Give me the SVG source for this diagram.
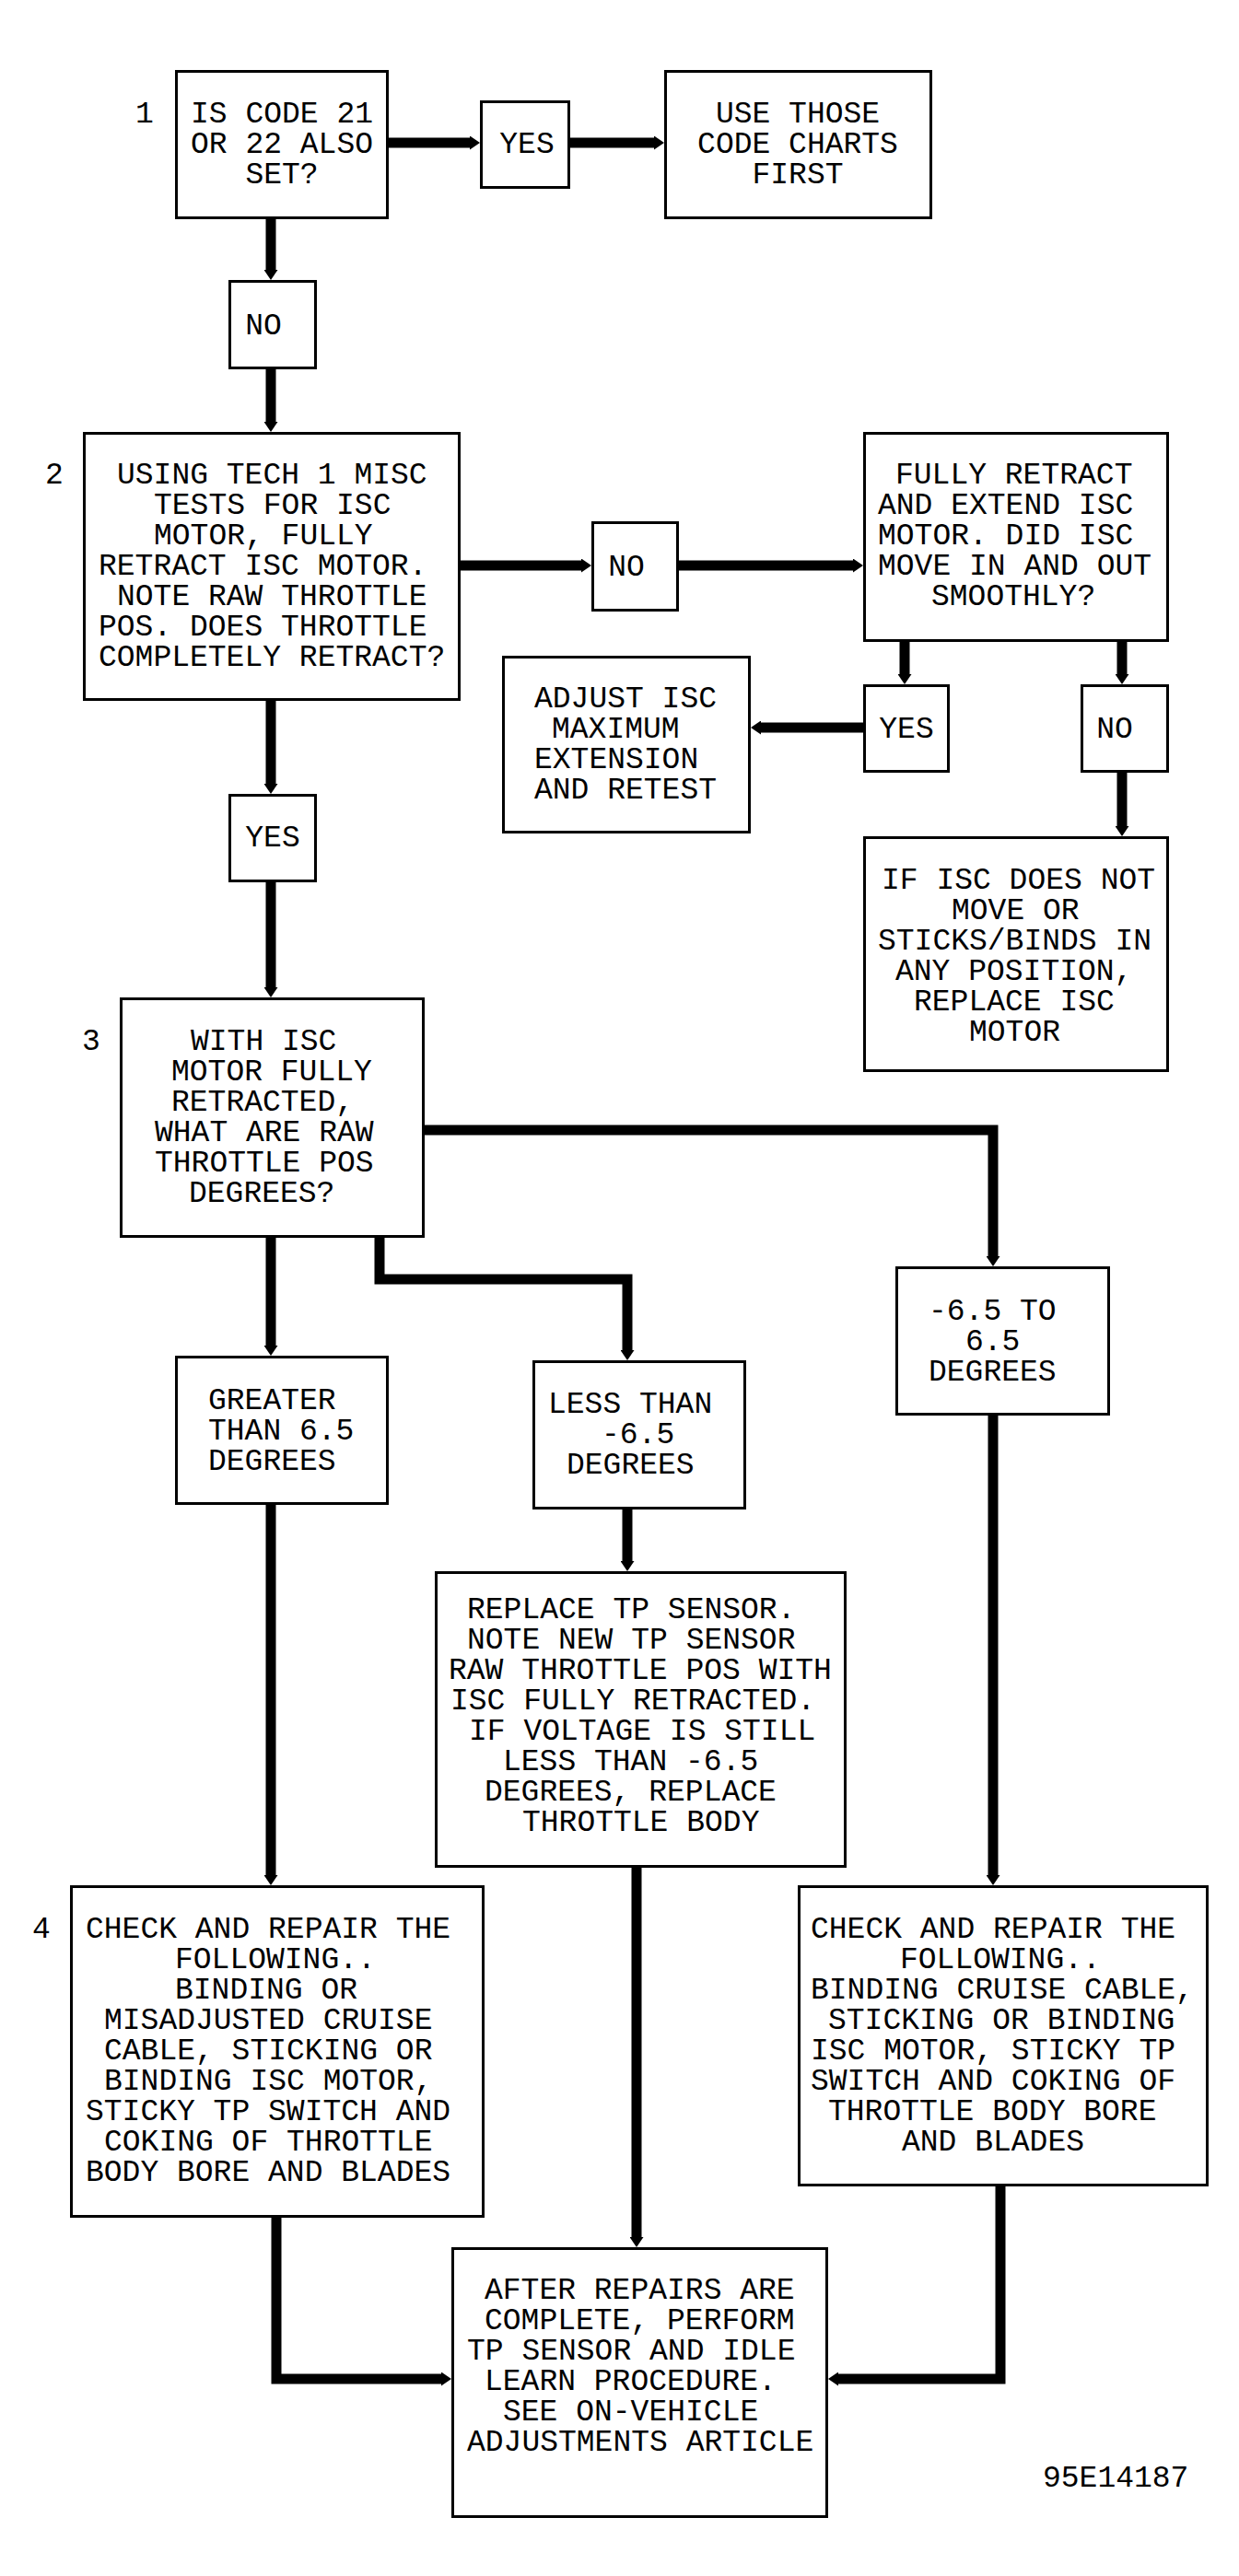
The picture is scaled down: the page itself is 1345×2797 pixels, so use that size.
<svg xmlns="http://www.w3.org/2000/svg" width="1345" height="2797" viewBox="0 0 1345 2797">
<style>
.bx{fill:#fff;stroke:#000;stroke-width:3}
.t{font-family:"Liberation Mono","DejaVu Sans Mono",monospace;font-size:33px;fill:#000}
.c{fill:none;stroke:#000;stroke-width:11;stroke-linejoin:miter;stroke-linecap:butt}
</style>
<defs>
<marker id="ah" viewBox="0 0 11 15" refX="0" refY="7.5" markerWidth="11" markerHeight="15" markerUnits="userSpaceOnUse" orient="auto"><path d="M0,0 L11,7.5 L0,15 Z" fill="#000"/></marker>
</defs>
<rect width="1345" height="2797" fill="#fff"/>
<g id="connectors">
<path class="c" marker-end="url(#ah)" d="M422,155 H510"/>
<path class="c" marker-end="url(#ah)" d="M619,155 H710"/>
<path class="c" marker-end="url(#ah)" d="M294,238 V293"/>
<path class="c" marker-end="url(#ah)" d="M294,401 V458"/>
<path class="c" marker-end="url(#ah)" d="M500,614 H631"/>
<path class="c" marker-end="url(#ah)" d="M737,614 H926"/>
<path class="c" marker-end="url(#ah)" d="M982,697 V732"/>
<path class="c" marker-end="url(#ah)" d="M1218,697 V732"/>
<path class="c" marker-end="url(#ah)" d="M937,790 H826"/>
<path class="c" marker-end="url(#ah)" d="M1218,839 V897"/>
<path class="c" marker-end="url(#ah)" d="M294,761 V851"/>
<path class="c" marker-end="url(#ah)" d="M294,958 V1072"/>
<path class="c" marker-end="url(#ah)" d="M461,1227 H1078 V1364"/>
<path class="c" marker-end="url(#ah)" d="M294,1344 V1461"/>
<path class="c" marker-end="url(#ah)" d="M412,1344 V1389 H681 V1466"/>
<path class="c" marker-end="url(#ah)" d="M681,1639 V1695"/>
<path class="c" marker-end="url(#ah)" d="M294,1634 V2036"/>
<path class="c" marker-end="url(#ah)" d="M1078,1537 V2036"/>
<path class="c" marker-end="url(#ah)" d="M691,2028 V2429"/>
<path class="c" marker-end="url(#ah)" d="M300,2408 V2583 H479"/>
<path class="c" marker-end="url(#ah)" d="M1086,2374 V2583 H910"/>
</g>
<g id="step-labels">
<text class="t" x="157" y="133" text-anchor="middle">1</text>
<text class="t" x="59" y="525" text-anchor="middle">2</text>
<text class="t" x="99" y="1140" text-anchor="middle">3</text>
<text class="t" x="45" y="2104" text-anchor="middle">4</text>
</g>
<g id="n1">
<rect class="bx" x="191.5" y="77.5" width="229" height="159"/>
<text class="t" x="306" y="133" text-anchor="middle">IS CODE 21</text>
<text class="t" x="306" y="166" text-anchor="middle">OR 22 ALSO</text>
<text class="t" x="306" y="199" text-anchor="middle">SET?</text>
</g>
<g id="yes1">
<rect class="bx" x="522.5" y="110.5" width="95" height="93"/>
<text class="t" x="572" y="166" text-anchor="middle">YES</text>
</g>
<g id="use-charts">
<rect class="bx" x="722.5" y="77.5" width="288" height="159"/>
<text class="t" x="866" y="133" text-anchor="middle">USE THOSE</text>
<text class="t" x="866" y="166" text-anchor="middle">CODE CHARTS</text>
<text class="t" x="866" y="199" text-anchor="middle">FIRST</text>
</g>
<g id="no1">
<rect class="bx" x="249.5" y="305.5" width="93" height="94"/>
<text class="t" x="286" y="363" text-anchor="middle">NO</text>
</g>
<g id="n2">
<rect class="bx" x="91.5" y="470.5" width="407" height="289"/>
<text class="t" x="127" y="525">USING TECH 1 MISC</text>
<text class="t" x="167" y="558">TESTS FOR ISC</text>
<text class="t" x="167" y="591">MOTOR, FULLY</text>
<text class="t" x="107" y="624">RETRACT ISC MOTOR.</text>
<text class="t" x="127" y="657">NOTE RAW THROTTLE</text>
<text class="t" x="107" y="690">POS. DOES THROTTLE</text>
<text class="t" x="107" y="723">COMPLETELY RETRACT?</text>
</g>
<g id="no2">
<rect class="bx" x="643.5" y="567.5" width="92" height="95"/>
<text class="t" x="680" y="625" text-anchor="middle">NO</text>
</g>
<g id="retract-extend">
<rect class="bx" x="938.5" y="470.5" width="329" height="225"/>
<text class="t" x="972" y="525">FULLY RETRACT</text>
<text class="t" x="953" y="558">AND EXTEND ISC</text>
<text class="t" x="953" y="591">MOTOR. DID ISC</text>
<text class="t" x="953" y="624">MOVE IN AND OUT</text>
<text class="t" x="1011" y="657">SMOOTHLY?</text>
</g>
<g id="yes2">
<rect class="bx" x="938.5" y="744.5" width="91" height="93"/>
<text class="t" x="984" y="801" text-anchor="middle">YES</text>
</g>
<g id="no3">
<rect class="bx" x="1174.5" y="744.5" width="93" height="93"/>
<text class="t" x="1210" y="801" text-anchor="middle">NO</text>
</g>
<g id="adjust">
<rect class="bx" x="546.5" y="713.5" width="267" height="190"/>
<text class="t" x="580" y="768">ADJUST ISC</text>
<text class="t" x="599" y="801">MAXIMUM</text>
<text class="t" x="580" y="834">EXTENSION</text>
<text class="t" x="580" y="867">AND RETEST</text>
</g>
<g id="replace-isc">
<rect class="bx" x="938.5" y="909.5" width="329" height="253"/>
<text class="t" x="957" y="965">IF ISC DOES NOT</text>
<text class="t" x="1033" y="998">MOVE OR</text>
<text class="t" x="953" y="1031">STICKS/BINDS IN</text>
<text class="t" x="972" y="1064">ANY POSITION,</text>
<text class="t" x="992" y="1097">REPLACE ISC</text>
<text class="t" x="1052" y="1130">MOTOR</text>
</g>
<g id="yes3">
<rect class="bx" x="249.5" y="863.5" width="93" height="93"/>
<text class="t" x="296" y="919" text-anchor="middle">YES</text>
</g>
<g id="n3">
<rect class="bx" x="131.5" y="1084.5" width="328" height="258"/>
<text class="t" x="207" y="1140">WITH ISC</text>
<text class="t" x="186" y="1173">MOTOR FULLY</text>
<text class="t" x="186" y="1206">RETRACTED,</text>
<text class="t" x="168" y="1239">WHAT ARE RAW</text>
<text class="t" x="168" y="1272">THROTTLE POS</text>
<text class="t" x="205" y="1305">DEGREES?</text>
</g>
<g id="range">
<rect class="bx" x="973.5" y="1376.5" width="230" height="159"/>
<text class="t" x="1008" y="1433">-6.5 TO</text>
<text class="t" x="1048" y="1466">6.5</text>
<text class="t" x="1008" y="1499">DEGREES</text>
</g>
<g id="greater">
<rect class="bx" x="191.5" y="1473.5" width="229" height="159"/>
<text class="t" x="226" y="1530">GREATER</text>
<text class="t" x="226" y="1563">THAN 6.5</text>
<text class="t" x="226" y="1596">DEGREES</text>
</g>
<g id="less">
<rect class="bx" x="579.5" y="1478.5" width="229" height="159"/>
<text class="t" x="595" y="1534">LESS THAN</text>
<text class="t" x="653" y="1567">-6.5</text>
<text class="t" x="615" y="1600">DEGREES</text>
</g>
<g id="replace-tp">
<rect class="bx" x="473.5" y="1707.5" width="444" height="319"/>
<text class="t" x="507" y="1757">REPLACE TP SENSOR.</text>
<text class="t" x="507" y="1790">NOTE NEW TP SENSOR</text>
<text class="t" x="487" y="1823">RAW THROTTLE POS WITH</text>
<text class="t" x="489" y="1856">ISC FULLY RETRACTED.</text>
<text class="t" x="509" y="1889">IF VOLTAGE IS STILL</text>
<text class="t" x="546" y="1922">LESS THAN -6.5</text>
<text class="t" x="526" y="1955">DEGREES, REPLACE</text>
<text class="t" x="567" y="1988">THROTTLE BODY</text>
</g>
<g id="check-left">
<rect class="bx" x="77.5" y="2048.5" width="447" height="358"/>
<text class="t" x="93" y="2104">CHECK AND REPAIR THE</text>
<text class="t" x="190" y="2137">FOLLOWING..</text>
<text class="t" x="190" y="2170">BINDING OR</text>
<text class="t" x="113" y="2203">MISADJUSTED CRUISE</text>
<text class="t" x="113" y="2236">CABLE, STICKING OR</text>
<text class="t" x="113" y="2269">BINDING ISC MOTOR,</text>
<text class="t" x="93" y="2302">STICKY TP SWITCH AND</text>
<text class="t" x="113" y="2335">COKING OF THROTTLE</text>
<text class="t" x="93" y="2368">BODY BORE AND BLADES</text>
</g>
<g id="check-right">
<rect class="bx" x="867.5" y="2048.5" width="443" height="324"/>
<text class="t" x="880" y="2104">CHECK AND REPAIR THE</text>
<text class="t" x="977" y="2137">FOLLOWING..</text>
<text class="t" x="880" y="2170">BINDING CRUISE CABLE,</text>
<text class="t" x="899" y="2203">STICKING OR BINDING</text>
<text class="t" x="880" y="2236">ISC MOTOR, STICKY TP</text>
<text class="t" x="880" y="2269">SWITCH AND COKING OF</text>
<text class="t" x="899" y="2302">THROTTLE BODY BORE</text>
<text class="t" x="979" y="2335">AND BLADES</text>
</g>
<g id="after-repairs">
<rect class="bx" x="491.5" y="2441.5" width="406" height="291"/>
<text class="t" x="526" y="2496">AFTER REPAIRS ARE</text>
<text class="t" x="526" y="2529">COMPLETE, PERFORM</text>
<text class="t" x="507" y="2562">TP SENSOR AND IDLE</text>
<text class="t" x="526" y="2595">LEARN PROCEDURE.</text>
<text class="t" x="546" y="2628">SEE ON-VEHICLE</text>
<text class="t" x="507" y="2661">ADJUSTMENTS ARTICLE</text>
</g>
<text class="t" x="1132" y="2700">95E14187</text>
</svg>
